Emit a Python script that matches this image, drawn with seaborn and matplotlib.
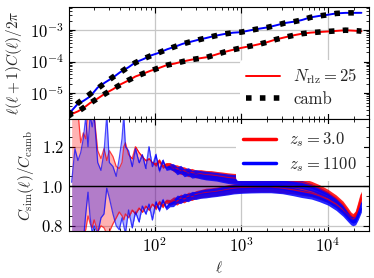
import numpy as np
import matplotlib
matplotlib.use("Agg")
import matplotlib.pyplot as plt
import seaborn as sns
from matplotlib.lines import Line2D
from matplotlib.ticker import MultipleLocator

# power spectra (upper panel)
ell_spec = [10, 11, 13, 15, 18, 22, 27, 33, 40, 50, 60, 75, 90, 110, 140, 170, 210, 260, 320,
            400, 500, 630, 800, 1000, 1300, 1600, 2000, 2500, 3200, 4000, 5000, 6300, 8000,
            10000, 12500, 16000, 20000, 24500]
camb_zs3 = [1.82e-6, 2.19e-6, 2.57e-6, 3.37e-6, 4.77e-6, 6.8e-6, 9.6e-6, 1.34e-5, 1.82e-5, 2.57e-5,
            3.30e-5, 4.23e-5, 5.06e-5, 6.17e-5, 7.72e-5, 8.65e-5, 9.95e-5, 1.14e-4, 1.24e-4, 1.36e-4,
            1.64e-4, 1.98e-4, 2.36e-4, 2.70e-4, 3.13e-4, 3.53e-4, 4.13e-4, 5.0e-4, 5.9e-4, 6.76e-4,
            7.64e-4, 8.24e-4, 8.65e-4, 9.02e-4, 9.4e-4, 9.91e-4, 9.64e-4, 9.23e-4]
camb_zs1100 = [2.0e-6, 2.69e-6, 4.79e-6, 6.46e-6, 9.35e-6, 1.40e-5, 2.14e-5, 3.21e-5, 4.50e-5, 6.76e-5,
               9.23e-5, 1.23e-4, 1.52e-4, 1.88e-4, 2.44e-4, 2.95e-4, 3.62e-4, 4.25e-4, 4.88e-4, 5.66e-4,
               6.55e-4, 7.45e-4, 8.20e-4, 8.59e-4, 9.89e-4, 1.10e-3, 1.21e-3, 1.40e-3, 1.67e-3, 1.83e-3,
               2.07e-3, 2.52e-3, 2.81e-3, 3.05e-3, 3.37e-3, 3.51e-3, 3.51e-3, 3.51e-3]
sim_zs3 = [1.80e-6, 2.15e-6, 2.62e-6, 3.30e-6, 4.85e-6, 6.7e-6, 9.8e-6, 1.32e-5, 1.86e-5, 2.52e-5,
           3.35e-5, 4.20e-5, 5.10e-5, 6.10e-5, 7.80e-5, 8.60e-5, 1.00e-4, 1.13e-4, 1.25e-4, 1.37e-4,
           1.63e-4, 1.99e-4, 2.35e-4, 2.71e-4, 3.12e-4, 3.54e-4, 4.12e-4, 5.0e-4, 5.88e-4, 6.78e-4,
           7.62e-4, 8.26e-4, 8.66e-4, 9.0e-4, 9.38e-4, 9.85e-4, 9.55e-4, 9.2e-4]
sim_zs1100 = [2.0e-6, 2.75e-6, 4.6e-6, 5.6e-6, 7.8e-6, 1.5e-5, 2.2e-5, 3.1e-5, 4.6e-5, 6.6e-5,
              9.4e-5, 1.21e-4, 1.55e-4, 1.86e-4, 2.46e-4, 2.93e-4, 3.64e-4, 4.23e-4, 4.90e-4, 5.64e-4,
              6.57e-4, 7.43e-4, 8.22e-4, 8.57e-4, 9.92e-4, 1.10e-3, 1.21e-3, 1.40e-3, 1.67e-3, 1.83e-3,
              2.07e-3, 2.52e-3, 2.81e-3, 3.05e-3, 3.37e-3, 3.51e-3, 3.51e-3, 3.52e-3]

# ratio bands (lower panel): upper / lower edge of the scatter
ell_ratio = [11, 12, 13, 14, 15, 16, 17, 18, 19, 20, 22, 24, 26, 28, 30, 33, 36, 39, 42, 44, 46,
             50, 55, 60, 66, 72, 79, 86, 94, 103, 113, 124, 136, 150, 165, 182, 200, 220, 245,
             270, 300, 340, 390, 450, 520, 600, 700, 820, 1000, 1300, 1700, 2200, 3000, 4000,
             5000, 6500, 8000, 10000, 12500, 15000, 17000, 18500, 19500, 21000, 22500, 24000, 24500]
hi_zs3 = [1.40, 1.42, 1.38, 1.22, 1.27, 1.24, 1.38, 1.40, 1.37, 1.36, 1.18, 1.14, 1.19, 1.13, 1.18,
          1.15, 1.10, 1.09, 1.12, 1.20, 1.22, 1.16, 1.14, 1.20, 1.17, 1.15, 1.13, 1.14, 1.12, 1.11,
          1.13, 1.10, 1.11, 1.105, 1.092, 1.088, 1.08, 1.078, 1.068, 1.07, 1.062, 1.063, 1.058,
          1.057, 1.053, 1.049, 1.044, 1.041, 1.039, 1.038, 1.037, 1.035, 1.031, 1.027, 1.021, 1.007,
          0.99, 0.969, 0.94, 0.909, 0.877, 0.854, 0.846, 0.859, 0.904, 0.949, 0.959]
lo_zs3 = [0.70, 0.72, 0.74, 0.73, 0.76, 0.78, 0.85, 0.81, 0.79, 0.83, 0.77, 0.80, 0.79, 0.76, 0.77,
          0.81, 0.84, 0.87, 0.85, 0.83, 0.86, 0.84, 0.88, 0.86, 0.89, 0.87, 0.90, 0.88, 0.91, 0.89,
          0.92, 0.90, 0.925, 0.918, 0.928, 0.925, 0.94, 0.936, 0.95, 0.948, 0.958, 0.962, 0.968,
          0.97, 0.974, 0.978, 0.984, 0.989, 0.992, 0.994, 0.995, 0.995, 0.989, 0.982, 0.974, 0.965,
          0.952, 0.934, 0.91, 0.882, 0.857, 0.838, 0.832, 0.844, 0.884, 0.925, 0.935]
hi_zs1100 = [1.02, 1.19, 1.13, 1.17, 1.24, 1.35, 1.20, 1.36, 1.30, 1.36, 1.12, 1.08, 1.17, 1.36, 1.12,
             1.10, 1.05, 1.14, 1.24, 1.36, 1.20, 1.18, 1.10, 1.19, 1.12, 1.16, 1.09, 1.20, 1.10, 1.16,
             1.08, 1.13, 1.09, 1.099, 1.096, 1.078, 1.086, 1.068, 1.074, 1.061, 1.064, 1.058, 1.054,
             1.051, 1.048, 1.043, 1.038, 1.035, 1.033, 1.032, 1.031, 1.029, 1.023, 1.016, 1.009, 0.994,
             0.977, 0.956, 0.924, 0.889, 0.856, 0.836, 0.829, 0.834, 0.864, 0.899, 0.914]
lo_zs1100 = [0.70, 0.74, 0.70, 0.76, 0.72, 0.86, 0.97, 0.84, 0.76, 0.80, 0.76, 0.84, 0.86, 0.99, 0.94,
             0.86, 0.80, 0.78, 0.84, 0.80, 0.76, 0.88, 0.79, 0.87, 0.82, 0.90, 0.86, 0.91, 0.83, 0.92,
             0.88, 0.93, 0.89, 0.911, 0.915, 0.935, 0.932, 0.945, 0.942, 0.954, 0.953, 0.96, 0.963,
             0.967, 0.97, 0.975, 0.98, 0.985, 0.988, 0.99, 0.991, 0.991, 0.985, 0.973, 0.963, 0.953,
             0.94, 0.921, 0.894, 0.864, 0.838, 0.821, 0.816, 0.821, 0.846, 0.876, 0.886]
# half-thickness of the noisy edge
fuzz = [0, 0, 0, 0, 0, 0, 0, 0, 0, 0, 0, 0, 0, 0, 0, 0, 0, 0, 0, 0, 0, 0,
        0.004, 0.004, 0.004, 0.004, 0.004, 0.004, 0.004, 0.01, 0.01, 0.01, 0.01, 0.015, 0.018,
        0.02, 0.02, 0.02, 0.02, 0.02, 0.02, 0.021, 0.022, 0.022, 0.022, 0.023, 0.024, 0.024, 0.024,
        0.024, 0.024, 0.024, 0.023, 0.021, 0.02, 0.018, 0.018, 0.016, 0.016, 0.016, 0.016, 0.016,
        0.016, 0.016, 0.016, 0.016, 0.016]

sns.set_style("whitegrid")
plt.rcParams.update({
    "font.family": "serif",
    "font.serif": ["cmr10"],
    "mathtext.fontset": "cm",
    "axes.formatter.use_mathtext": True,
    "font.size": 11,
    "axes.labelsize": 11,
    "xtick.labelsize": 12,
    "ytick.labelsize": 12,
    "legend.fontsize": 12,
    "axes.edgecolor": "black",
    "axes.linewidth": 0.8,
    "xtick.direction": "in", "ytick.direction": "in",
    "xtick.top": True, "xtick.bottom": True,
    "ytick.left": True, "ytick.right": True,
    "xtick.color": "black", "ytick.color": "black",
    "xtick.major.size": 4, "ytick.major.size": 4,
    "xtick.minor.size": 2, "ytick.minor.size": 2,
    "xtick.major.width": 0.8, "ytick.major.width": 0.8,
    "xtick.minor.width": 0.6, "ytick.minor.width": 0.6,
    "grid.color": "0.78",
    "grid.linewidth": 0.9,
})

fig, (ax1, ax2) = plt.subplots(2, 1, sharex=True, figsize=(3.74, 2.78), dpi=100)
fig.subplots_adjust(left=0.184, right=0.986, top=0.974, bottom=0.170, hspace=0)

# upper panel
sns.lineplot(x=ell_spec, y=sim_zs3, ax=ax1, color="red", lw=1.4, label=r"$N_{\rm rlz} = 25$")
sns.lineplot(x=ell_spec, y=sim_zs1100, ax=ax1, color="blue", lw=1.4)
ax1.plot(ell_spec, camb_zs3, color="black", lw=4, ls=(0, (1, 1.5)), label="camb")
ax1.plot(ell_spec, camb_zs1100, color="black", lw=4, ls=(0, (1, 1.5)))
ax1.set_xscale("log")
ax1.set_yscale("log")
ax1.set_xlim(10.2, 29800)
ax1.set_ylim(1.5e-6, 5.3e-3)
ax1.set_ylabel(r"$\ell(\ell+1)C(\ell)/2\pi$")
ax1.legend(loc="lower right", facecolor="white", edgecolor="none", framealpha=1,
           borderaxespad=0.3, labelspacing=0.35)

# lower panel
ell_r = np.array(ell_ratio)
f = np.array(fuzz)
for hi, lo, col in [(hi_zs3, lo_zs3, "red"), (hi_zs1100, lo_zs1100, "blue")]:
    hi = np.array(hi)
    lo = np.array(lo)
    ax2.fill_between(ell_r, lo, hi, color=col, alpha=0.3, lw=0)
    ax2.fill_between(ell_r, hi - f, hi + f, color=col, alpha=0.85, lw=0)
    ax2.fill_between(ell_r, lo - f, lo + f, color=col, alpha=0.85, lw=0)
    sns.lineplot(x=ell_r, y=hi, ax=ax2, color=col, lw=0.9, alpha=0.7)
    sns.lineplot(x=ell_r, y=lo, ax=ax2, color=col, lw=0.9, alpha=0.7)

ax2.axhline(1.0, color="black", lw=1.0, zorder=5)
ax2.set_xscale("log")
ax2.set_ylim(0.775, 1.34)
ax2.yaxis.set_major_locator(MultipleLocator(0.2))
ax2.yaxis.set_minor_locator(MultipleLocator(0.05))
ax2.set_xlabel(r"$\ell$")
ax2.set_ylabel(r"$C_{\rm sim}(\ell)/C_{\rm camb}$")
handles = [Line2D([], [], color="red", lw=2.5, label=r"$z_s = 3.0$"),
           Line2D([], [], color="blue", lw=2.5, label=r"$z_s = 1100$")]
ax2.legend(handles=handles, loc="upper right", facecolor="white", edgecolor="none", framealpha=1,
           borderaxespad=0.3, labelspacing=0.35)

fig.savefig("out.png", dpi=100)
